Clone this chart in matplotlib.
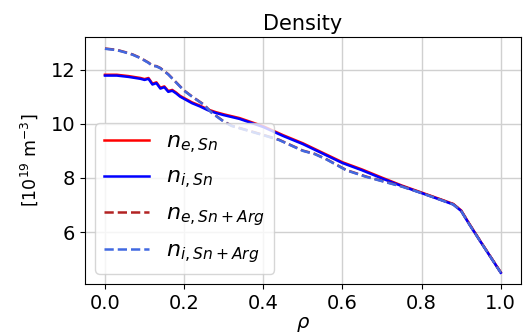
import matplotlib
matplotlib.use("Agg")
import matplotlib.pyplot as plt

# solid curves (Sn only)
rho_sn = [0.00, 0.03, 0.06, 0.09, 0.10, 0.11, 0.12, 0.13, 0.14, 0.15, 0.16,
          0.17, 0.18, 0.19, 0.20, 0.22, 0.24, 0.26, 0.28, 0.30, 0.34, 0.40,
          0.45, 0.50, 0.55, 0.60, 0.65, 0.70, 0.75, 0.80, 0.85, 0.88, 0.90,
          0.92, 0.95, 0.98, 1.00]
ni_sn = [11.78, 11.78, 11.73, 11.66, 11.62, 11.66, 11.45, 11.50, 11.30, 11.35,
         11.18, 11.22, 11.12, 11.00, 10.92, 10.76, 10.64, 10.50, 10.40, 10.32,
         10.18, 9.88, 9.55, 9.25, 8.90, 8.55, 8.28, 7.98, 7.70, 7.44, 7.18,
         7.02, 6.78, 6.30, 5.62, 4.95, 4.50]
ne_sn = [11.81, 11.81, 11.76, 11.69, 11.65, 11.69, 11.48, 11.53, 11.33, 11.38,
         11.21, 11.25, 11.15, 11.03, 10.95, 10.79, 10.67, 10.53, 10.43, 10.35,
         10.21, 9.91, 9.58, 9.28, 8.93, 8.58, 8.31, 8.01, 7.72, 7.46, 7.20,
         7.04, 6.80, 6.32, 5.63, 4.96, 4.51]

# dashed curves (Sn + Ar)
rho_arg = [0.00, 0.03, 0.05, 0.07, 0.09, 0.11, 0.12, 0.13, 0.14, 0.16, 0.18,
           0.20, 0.22, 0.25, 0.27, 0.30, 0.32, 0.36, 0.40, 0.44, 0.50, 0.53,
           0.56, 0.61, 0.66, 0.70, 0.75, 0.80, 0.85, 0.88, 0.90, 0.92, 0.95,
           0.98, 1.00]
ni_arg = [12.77, 12.72, 12.64, 12.55, 12.42, 12.25, 12.14, 12.12, 12.05,
          11.82, 11.52, 11.22, 11.00, 10.70, 10.40, 10.08, 9.92, 9.75, 9.58,
          9.40, 9.00, 8.88, 8.68, 8.28, 8.04, 7.88, 7.68, 7.44, 7.18, 7.02,
          6.78, 6.30, 5.62, 4.95, 4.50]
ne_arg = [12.78, 12.73, 12.65, 12.56, 12.43, 12.26, 12.15, 12.13, 12.06,
          11.83, 11.53, 11.23, 11.01, 10.71, 10.41, 10.09, 9.93, 9.76, 9.59,
          9.41, 9.01, 8.89, 8.69, 8.29, 8.05, 7.89, 7.69, 7.45, 7.19, 7.03,
          6.79, 6.31, 5.63, 4.96, 4.51]

fig, ax = plt.subplots(figsize=(5.29, 3.36), dpi=100)
fig.subplots_adjust(left=0.161, right=0.984, top=0.889, bottom=0.155)

ax.plot(rho_sn, ne_sn, color="red", lw=1.8, label=r"$n_{e,Sn}$")
ax.plot(rho_sn, ni_sn, color="blue", lw=1.8, label=r"$n_{i,Sn}$")
ax.plot(rho_arg, ne_arg, color="firebrick", lw=1.8, ls="--",
        label=r"$n_{e,Sn+Arg}$")
ax.plot(rho_arg, ni_arg, color="royalblue", lw=1.8, ls="--",
        label=r"$n_{i,Sn+Arg}$")

ax.set_title("Density", fontsize=15, pad=5)
ax.set_xlabel(r"$\rho$", fontsize=14, labelpad=2)
ax.set_ylabel(r"[10$^{19}$ m$^{-3}$]", fontsize=12.5, labelpad=8)
ax.set_xticks([0.0, 0.2, 0.4, 0.6, 0.8, 1.0])
ax.set_yticks([6, 8, 10, 12])
ax.tick_params(axis="both", labelsize=14)
ax.grid(True, color="#d0d0d0", lw=1)
ax.legend(loc="lower left", fontsize=16, handlelength=2.0,
          labelspacing=0.55, borderaxespad=0.45)

plt.savefig("out.png", dpi=100)
